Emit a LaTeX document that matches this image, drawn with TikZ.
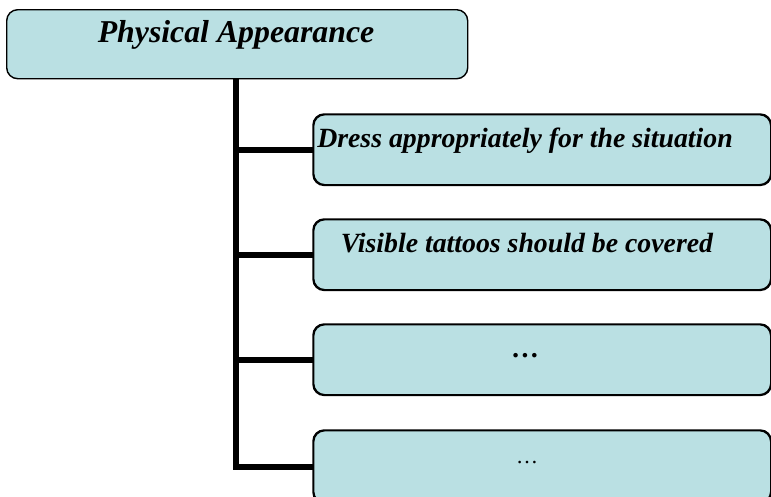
\documentclass[tikz,border=0pt]{standalone}
\usepackage{fontspec}
\setmainfont{Liberation Serif}
\definecolor{boxfill}{RGB}{186,224,227}
\tikzset{
  card/.style={draw=black, line width=1.4pt, fill=boxfill, rounded corners=11pt,
    inner sep=0pt, anchor=north west},
  headtext/.style={anchor=base, inner sep=0pt, font=\fontsize{31.8}{36}\selectfont\bfseries\itshape},
  itemtext/.style={anchor=base, inner sep=0pt, font=\fontsize{27.8}{32}\selectfont\bfseries\itshape},
  plaintext/.style={anchor=base, inner sep=0pt, font=\fontsize{22}{26}\selectfont},
  branch/.style={line width=6pt, black}
}
\begin{document}
\begin{tikzpicture}[x=1pt, y=-1pt]
\useasboundingbox (0,0) rectangle (771,496);
\begin{scope}
\clip (0,0) rectangle (771,496);
% parent box
\node[card, minimum width=461pt, minimum height=69pt] (top) at (6,9) {};
\node[headtext] (toptext) at (236,42) {Physical Appearance};
% child boxes
\node[card, minimum width=457pt, minimum height=70pt] (c1) at (313,114) {};
\node[card, minimum width=457pt, minimum height=70pt] (c2) at (313,219) {};
\node[card, minimum width=457pt, minimum height=70pt] (c3) at (313,324) {};
\node[card, minimum width=457pt, minimum height=72pt] (c4) at (313,430) {};
\node[itemtext] (t1) at (525,147) {Dress appropriately for the situation};
\node[itemtext] (t2) at (527,252) {Visible tattoos should be covered};
\node[itemtext] (t3) at (526,357) {\dots};
\node[plaintext] (t4) at (527,463) {\dots};
% connector: trunk from parent, branches to each child
\coordinate (trunk) at (236,0);
\draw[branch] (trunk |- top.south) -- (trunk |- c4.west) -- (c4.west);
\draw[branch] (trunk |- c1.west) -- (c1.west);
\draw[branch] (trunk |- c2.west) -- (c2.west);
\draw[branch] (trunk |- c3.west) -- (c3.west);
% redraw borders over branch ends
\foreach \n in {c1,c2,c3,c4}{
  \draw[line width=1.4pt, rounded corners=11pt] (\n.north west) rectangle (\n.south east);
}
\end{scope}
\end{tikzpicture}
\end{document}
